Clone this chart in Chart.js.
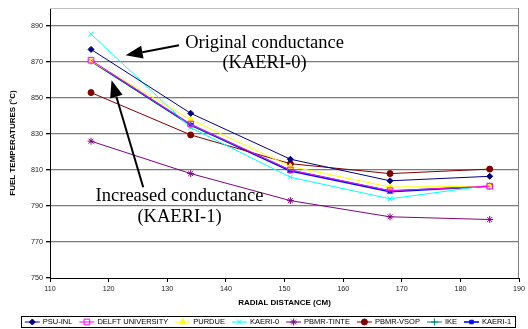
<!DOCTYPE html>
<html>
<head>
<meta charset="utf-8">
<script src="https://cdn.jsdelivr.net/npm/chart.js@4.4.1/dist/chart.umd.min.js"></script>
<style>
  html, body { margin: 0; padding: 0; background: #fff; }
</style>
</head>
<body>
<canvas id="chart" width="528" height="329"></canvas>
<script>
// chart data
const radialDistance = [117, 134, 151, 168, 185];
const psuInl    = [877, 841.5, 816, 804, 806.5];
const delft     = [871, 835.5, 810, 798.5, 801];
const purdue    = [870.5, 838, 812, 800.5, 801];
const kaeri0    = [885.5, 833.5, 806, 794, 801.5];
const pbmrTinte = [826, 808, 793, 784, 782.5];
const pbmrVsop  = [853, 829.5, 813.5, 808, 810.5];
const ike       = [870.5, 835, 810, 798.5, 801];
const kaeri1    = [870.5, 835, 809.5, 798, 801];

const seriesLabels = ['PSU-INL', 'DELFT UNIVERSITY', 'PURDUE', 'KAERI-0', 'PBMR-TINTE', 'PBMR-VSOP', 'IKE', 'KAERI-1'];
const seriesValues = [psuInl, delft, purdue, kaeri0, pbmrTinte, pbmrVsop, ike, kaeri1];

const xTicks = [110, 120, 130, 140, 150, 160, 170, 180, 190];
const yTicks = [750, 770, 790, 810, 830, 850, 870, 890];

// annotation text and arrows, in data units
const notes = [
  { text: 'Original conductance', x: 146.6, y: 880.6 },
  { text: '(KAERI-0)', x: 146.6, y: 869.2 },
  { text: 'Increased conductance', x: 132.1, y: 795.4 },
  { text: '(KAERI-1)', x: 132.1, y: 783.9 }
];
const arrows = [
  { from: [132.0, 879.3], to: [122.9, 873.7] },
  { from: [125.9, 800.4], to: [120.5, 859.8] }
];

const styles = [
  { color: '#000080', point: 'rectRot', r: 3, fill: '#000080', w: 1 },
  { color: '#ff00ff', point: 'rect', r: 4, fill: 'rgba(0,0,0,0)', w: 1 },
  { color: '#ffff00', point: 'triangle', r: 3.5, fill: '#ffff00', w: 1 },
  { color: '#00ffff', point: 'crossRot', r: 3.5, fill: '#00ffff', w: 1 },
  { color: '#800080', point: 'star', r: 3.5, fill: '#800080', w: 1 },
  { color: '#800000', point: 'circle', r: 3, fill: '#800000', w: 1 },
  { color: '#008080', point: 'cross', r: 3.5, fill: '#008080', w: 1 },
  { color: '#0000ff', point: 'rect', r: 2.5, fill: '#0000ff', w: 1.6 }
];

const FONT = '"Liberation Sans", Arial, sans-serif';

const datasets = seriesLabels.map((label, i) => ({
  label: label,
  data: radialDistance.map((x, j) => ({ x: x, y: seriesValues[i][j] })),
  borderColor: styles[i].color,
  backgroundColor: styles[i].fill,
  borderWidth: styles[i].w,
  pointStyle: styles[i].point,
  pointRadius: styles[i].r,
  pointBackgroundColor: styles[i].fill,
  pointBorderColor: styles[i].color,
  pointBorderWidth: 1,
  tension: 0,
  fill: false
}));

function drawArrow(ctx, x1, y1, x2, y2) {
  const ang = Math.atan2(y2 - y1, x2 - x1);
  const headLen = 17, headW = 6.5;
  const bx = x2 - Math.cos(ang) * headLen, by = y2 - Math.sin(ang) * headLen;
  ctx.beginPath();
  ctx.moveTo(x1, y1);
  ctx.lineTo(bx, by);
  ctx.stroke();
  ctx.beginPath();
  ctx.moveTo(x2, y2);
  ctx.lineTo(bx - Math.sin(ang) * headW, by + Math.cos(ang) * headW);
  ctx.lineTo(bx + Math.sin(ang) * headW, by - Math.cos(ang) * headW);
  ctx.closePath();
  ctx.fill();
}

function drawLegend(chart) {
  const ctx = chart.ctx;
  ctx.save();
  ctx.font = '7.5px ' + FONT;
  const lineLen = 15, textGap = 3, itemGap = 7;
  const items = chart.data.datasets.map(ds => ({ ds: ds, w: ctx.measureText(ds.label).width }));
  const total = items.reduce((s, it) => s + lineLen + textGap + it.w, 0) + itemGap * (items.length - 1);
  const cx = 268, cy = 322;
  ctx.strokeStyle = '#000';
  ctx.lineWidth = 1;
  ctx.strokeRect(Math.round(cx - total / 2 - 4) + 0.5, 316.5, Math.round(total + 8), 11);
  let x = cx - total / 2;
  items.forEach(it => {
    const ds = it.ds;
    ctx.strokeStyle = ds.borderColor;
    ctx.lineWidth = ds.borderWidth;
    ctx.beginPath();
    ctx.moveTo(x, cy);
    ctx.lineTo(x + lineLen, cy);
    ctx.stroke();
    ctx.fillStyle = ds.pointBackgroundColor;
    ctx.lineWidth = 1;
    Chart.helpers.drawPoint(ctx, { pointStyle: ds.pointStyle, radius: ds.pointRadius, rotation: 0, borderWidth: 1 }, x + lineLen / 2, cy);
    ctx.fillStyle = '#000';
    ctx.textAlign = 'left';
    ctx.textBaseline = 'middle';
    ctx.fillText(ds.label, x + lineLen + textGap, cy);
    x += lineLen + textGap + it.w + itemGap;
  });
  ctx.restore();
}

const overlay = {
  id: 'overlay',
  beforeDatasetsDraw(chart) {
    const { ctx, chartArea: a } = chart;
    ctx.save();
    ctx.lineWidth = 1;
    ctx.strokeStyle = '#c0c0c0';
    ctx.beginPath();
    ctx.moveTo(a.left, a.top + 0.5);
    ctx.lineTo(a.right, a.top + 0.5);
    ctx.stroke();
    ctx.strokeStyle = '#808080';
    ctx.beginPath();
    ctx.moveTo(a.right - 0.5, a.top);
    ctx.lineTo(a.right - 0.5, a.bottom);
    ctx.stroke();
    ctx.restore();
  },
  afterDraw(chart) {
    const { ctx, scales: { x, y } } = chart;
    ctx.save();
    ctx.fillStyle = '#000';
    ctx.font = '18.5px "Liberation Serif", "Times New Roman", serif';
    ctx.textAlign = 'center';
    ctx.textBaseline = 'middle';
    notes.forEach(n => ctx.fillText(n.text, x.getPixelForValue(n.x), y.getPixelForValue(n.y)));
    ctx.strokeStyle = '#000';
    ctx.lineWidth = 2;
    arrows.forEach(ar => drawArrow(ctx,
      x.getPixelForValue(ar.from[0]), y.getPixelForValue(ar.from[1]),
      x.getPixelForValue(ar.to[0]), y.getPixelForValue(ar.to[1])));
    ctx.restore();
    drawLegend(chart);
  }
};

const ctx = document.getElementById('chart').getContext('2d');
new Chart(ctx, {
  type: 'line',
  data: { datasets: datasets },
  plugins: [overlay],
  options: {
    responsive: false,
    animation: false,
    devicePixelRatio: 1,
    layout: { padding: { top: 8, right: 6, bottom: 20, left: 0 } },
    plugins: {
      legend: { display: false },
      tooltip: { enabled: false }
    },
    scales: {
      x: {
        type: 'linear',
        min: 110,
        max: 190,
        afterBuildTicks: s => { s.ticks = xTicks.map(v => ({ value: v })); },
        afterFit: s => { s.height = 31; },
        grid: { drawOnChartArea: false, color: '#000', tickLength: 4 },
        border: { color: '#000', width: 1 },
        ticks: { font: { family: FONT, size: 7.2 }, color: '#222', padding: 3, maxRotation: 0 },
        title: {
          display: true,
          text: 'RADIAL DISTANCE (CM)',
          font: { family: FONT, size: 8, weight: 'bold' },
          color: '#000',
          padding: { top: 0, bottom: 1 }
        }
      },
      y: {
        min: 750,
        max: 900,
        afterBuildTicks: s => { s.ticks = yTicks.map(v => ({ value: v })); },
        afterFit: s => { s.width = 50; },
        grid: {
          color: c => (c.tick && c.tick.value === 750) ? 'rgba(0,0,0,0)' : '#7a7a7a',
          tickColor: '#000',
          tickLength: 4,
          lineWidth: 1.3
        },
        border: { color: '#000', width: 1 },
        ticks: { font: { family: FONT, size: 7.2 }, color: '#222', padding: 3 },
        title: {
          display: true,
          text: 'FUEL TEMPERATURES (°C)',
          font: { family: FONT, size: 8, weight: 'bold' },
          color: '#000',
          padding: { top: 7.7, bottom: 0 }
        }
      }
    }
  }
});
</script>
</body>
</html>
